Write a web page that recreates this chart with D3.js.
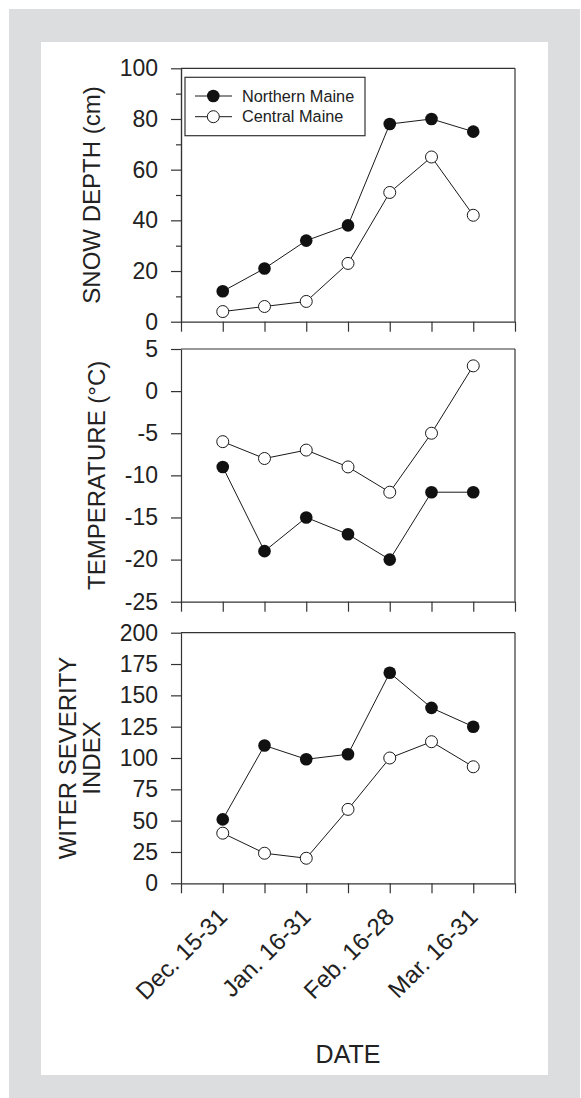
<!DOCTYPE html>
<html>
<head>
<meta charset="utf-8">
<title>Snow depth, temperature and winter severity</title>
<style>
  body { margin: 0; background: #fff; }
  svg, svg text { font-family: "Liberation Sans", Arial, sans-serif; }
  .axis text { font-size: 23px; fill: #222; font-family: "Liberation Sans", Arial, sans-serif; }
  .axis path, .axis line { stroke: #333; stroke-width: 1.2; }
</style>
<script src="https://cdnjs.cloudflare.com/ajax/libs/d3/7.8.5/d3.min.js"></script>
</head>
<body>
<div id="chart"></div>
<script>
// half-month periods, every other one gets a label
var periods = ["Dec. 15-31", "Jan. 1-15", "Jan. 16-31", "Feb. 1-15", "Feb. 16-28", "Mar. 1-15", "Mar. 16-31"];
var periodLabels = ["Dec. 15-31", "Jan. 16-31", "Feb. 16-28", "Mar. 16-31"];
var seriesNames = ["Northern Maine", "Central Maine"];

var snowNorth = [12, 21, 32, 38, 78, 80, 75];
var snowCentral = [4, 6, 8, 23, 51, 65, 42];
var tempNorth = [-9, -19, -15, -17, -20, -12, -12];
var tempCentral = [-6, -8, -7, -9, -12, -5, 3];
var wsiNorth = [51, 110, 99, 103, 168, 140, 125];
var wsiCentral = [40, 24, 20, 59, 100, 113, 93];

var snowTicks = [0, 20, 40, 60, 80, 100];
var snowMinor = [10, 30, 50, 70, 90];
var tempTicks = [-25, -20, -15, -10, -5, 0, 5];
var wsiTicks = [0, 25, 50, 75, 100, 125, 150, 175, 200];

var W = 581, H = 1098;
var svg = d3.select("#chart").append("svg").attr("width", W).attr("height", H);

svg.append("rect").attr("x", 9).attr("y", 9).attr("width", 571).attr("height", 1089).attr("fill", "#dcdddf");
svg.append("rect").attr("x", 41).attr("y", 42).attr("width", 507).attr("height", 1033).attr("fill", "#fff");

var left = 181, right = 515;
var x = d3.scaleLinear().domain([0, periods.length + 1]).range([left, right]);
var plain = function (d) { return String(d); }; // keep ascii hyphen for negatives

var panels = [
  { top: 68.3, bottom: 321.7, domain: [0, 100], ticks: snowTicks, minor: snowMinor,
    north: snowNorth, central: snowCentral, title: ["SNOW DEPTH (cm)"], titleX: [100] },
  { top: 349, bottom: 601.7, domain: [-25, 5], ticks: tempTicks, minor: [],
    north: tempNorth, central: tempCentral, title: ["TEMPERATURE (\u00B0C)"], titleX: [105] },
  { top: 632.7, bottom: 883.3, domain: [0, 200], ticks: wsiTicks, minor: [],
    north: wsiNorth, central: wsiCentral, title: ["WITER SEVERITY", "INDEX"], titleX: [76, 100] }
];

panels.forEach(function (p, pi) {
  var y = d3.scaleLinear().domain(p.domain).range([p.bottom, p.top]);
  var g = svg.append("g");

  // frame top + right
  g.append("line").attr("x1", left).attr("x2", right).attr("y1", p.top).attr("y2", p.top)
    .attr("stroke", "#333").attr("stroke-width", 1.2);
  g.append("line").attr("x1", right).attr("x2", right).attr("y1", p.top).attr("y2", p.bottom)
    .attr("stroke", "#333").attr("stroke-width", 1.2);

  g.append("g").attr("class", "axis").attr("transform", "translate(" + left + ",0)")
    .call(d3.axisLeft(y).tickValues(p.ticks).tickSize(10).tickSizeOuter(0).tickPadding(13).tickFormat(plain));
  if (p.minor.length) {
    g.append("g").attr("class", "axis").attr("transform", "translate(" + left + ",0)")
      .call(d3.axisLeft(y).tickValues(p.minor).tickSize(5).tickSizeOuter(0).tickFormat(""));
  }
  g.append("g").attr("class", "axis").attr("transform", "translate(0," + p.bottom + ")")
    .call(d3.axisBottom(x).tickValues(d3.range(0, periods.length + 2)).tickSize(10).tickSizeOuter(0).tickFormat(""));

  var mid = (p.top + p.bottom) / 2;
  p.title.forEach(function (t, i) {
    g.append("text").attr("transform", "translate(" + p.titleX[i] + "," + mid + ") rotate(-90)")
      .attr("text-anchor", "middle").style("font-size", "24px").attr("fill", "#222").text(t);
  });

  var line = d3.line().x(function (d, i) { return x(i + 1); }).y(function (d) { return y(d); });
  [p.central, p.north].forEach(function (vals) {
    g.append("path").datum(vals).attr("d", line).attr("fill", "none")
      .attr("stroke", "#1a1a1a").attr("stroke-width", 1);
  });
  g.selectAll(".c").data(p.central).enter().append("circle")
    .attr("cx", function (d, i) { return x(i + 1); }).attr("cy", function (d) { return y(d); })
    .attr("r", 6).attr("fill", "#fff").attr("stroke", "#1a1a1a").attr("stroke-width", 1);
  g.selectAll(".n").data(p.north).enter().append("circle")
    .attr("cx", function (d, i) { return x(i + 1); }).attr("cy", function (d) { return y(d); })
    .attr("r", 6.3).attr("fill", "#111");

  if (pi === panels.length - 1) {
    periods.forEach(function (name, i) {
      if (periodLabels.indexOf(name) < 0) return;
      svg.append("text")
        .attr("transform", "translate(" + (x(i + 1) + 6) + "," + (p.bottom + 35) + ") rotate(-45)")
        .attr("text-anchor", "end").style("font-size", "24px").attr("fill", "#222").text(name);
    });
    svg.append("text").attr("x", (left + right) / 2).attr("y", 1063)
      .attr("text-anchor", "middle").style("font-size", "25px").attr("fill", "#222").text("DATE");
  }
});

// legend in the top panel
var lg = svg.append("g");
lg.append("rect").attr("x", 185).attr("y", 77.3).attr("width", 180).attr("height", 58.4)
  .attr("fill", "#fff").attr("stroke", "#333").attr("stroke-width", 1.2);
seriesNames.forEach(function (name, i) {
  var ly = 96 + i * 20.7;
  lg.append("line").attr("x1", 195).attr("x2", 232).attr("y1", ly).attr("y2", ly)
    .attr("stroke", "#1a1a1a").attr("stroke-width", 1);
  lg.append("circle").attr("cx", 213.3).attr("cy", ly).attr("r", i === 0 ? 6.3 : 6)
    .attr("fill", i === 0 ? "#111" : "#fff").attr("stroke", i === 0 ? "none" : "#1a1a1a");
  lg.append("text").attr("x", 242).attr("y", ly + 5.7).style("font-size", "16.3px")
    .attr("fill", "#222").text(name);
});
</script>
</body>
</html>
